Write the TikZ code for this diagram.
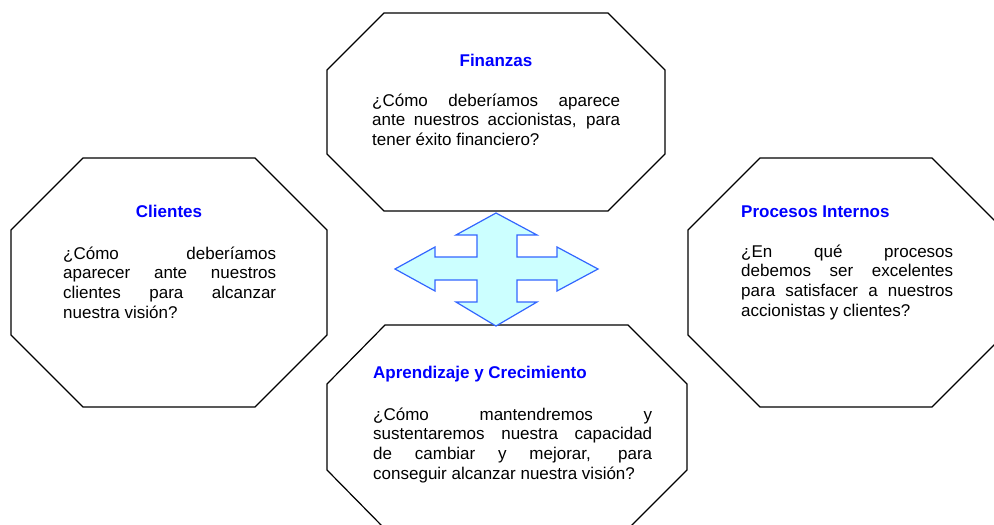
\documentclass[tikz,border=0pt]{standalone}
\usepackage{fontspec}
\setmainfont{Liberation Sans}
\usepackage{tikz}
\definecolor{flechafondo}{RGB}{204,255,255}
\definecolor{flechaborde}{RGB}{51,102,255}
\definecolor{tituloazul}{RGB}{0,0,255}
\newcommand{\singuiones}{\tolerance=10000\relax\hyphenpenalty=10000\relax\hbadness=10000\relax}
\tikzset{
  octa/.style={draw=black,line width=1.2pt,line join=miter},
  titulo/.style={inner sep=0pt,font=\fontsize{17}{19.8}\selectfont\bfseries,text=tituloazul},
  cuerpo/.style={inner sep=0pt,anchor=base west,align=justify,
    font=\fontsize{17}{19.8}\selectfont,execute at begin node=\singuiones}
}
\begin{document}
\begin{tikzpicture}[x=1pt,y=-1pt]
  \useasboundingbox (0,0) rectangle (994,525);
  \begin{scope}
    \clip (0,0) rectangle (994,525);
    % octagons
    \draw[octa] (384,13)--(608,13)--(665,70)--(665,154)--(608,211)--(384,211)--(327,154)--(327,70)--cycle;
    \draw[octa] (83,158)--(255,158)--(327,230)--(327,335)--(255,407)--(83,407)--(11,335)--(11,230)--cycle;
    \draw[octa] (760,158)--(932,158)--(1004,230)--(1004,335)--(932,407)--(760,407)--(688,335)--(688,230)--cycle;
    \draw[octa] (385,325)--(628,325)--(687,384)--(687,470)--(628,529)--(385,529)--(327,470)--(327,384)--cycle;
  \end{scope}
  % four-way arrow
  \draw[fill=flechafondo,draw=flechaborde,line width=1.2pt,line join=miter]
    (496,213)--(537,235)--(517,235)--(517,257)--(557,257)--(557,247)--(598,269)
    --(557,291)--(557,280)--(517,280)--(517,302)--(537,302)--(496,326)--(456,302)
    --(477,302)--(477,280)--(435,280)--(435,291)--(395,269)--(435,247)--(435,257)
    --(477,257)--(477,235)--(456,235)--cycle;
  % texts
  \node[titulo,anchor=base] (finT) at (496,66) {Finanzas};
  \node[cuerpo,text width=248pt] (finB) at (372,106)
    {¿Cómo deberíamos aparece\linebreak ante nuestros accionistas, para\linebreak tener éxito financiero?};
  \node[titulo,anchor=base] (cliT) at (169,217) {Clientes};
  \node[cuerpo,text width=213pt] (cliB) at (63,259)
    {¿Cómo deberíamos\linebreak aparecer ante nuestros\linebreak clientes para alcanzar\linebreak nuestra visión?};
  \node[titulo,anchor=base west] (proT) at (741,217) {Procesos Internos};
  \node[cuerpo,text width=212pt] (proB) at (741,257)
    {¿En qué procesos\linebreak debemos ser excelentes\linebreak para satisfacer a nuestros\linebreak accionistas y clientes?};
  \node[titulo,anchor=base west] (aprT) at (373,378) {Aprendizaje y Crecimiento};
  \node[cuerpo,text width=279pt] (aprB) at (373,420)
    {¿Cómo mantendremos y\linebreak sustentaremos nuestra capacidad\linebreak de cambiar y mejorar, para\linebreak conseguir alcanzar nuestra visión?};
\end{tikzpicture}
\end{document}
